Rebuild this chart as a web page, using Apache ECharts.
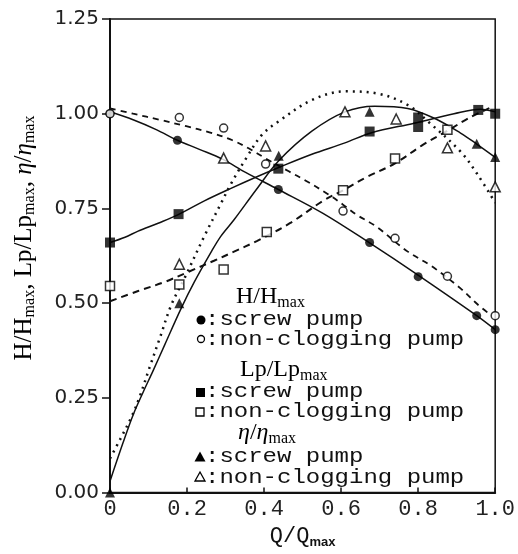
<!DOCTYPE html>
<html lang="en">
<head>
  <meta charset="UTF-8">
  <title>H, Lp, eta vs Q</title>
  <script src="https://cdn.jsdelivr.net/npm/echarts@6/dist/echarts.min.js"></script>
  <style>
    body { margin: 0; background: #fff; }
    #chart { width: 518px; height: 554px; }
  </style>
</head>
<body>
  <div id="chart"></div>
  <script>
    // measured points (markers)
    const hScrewQ = [0, 0.175, 0.437, 0.674, 0.80, 0.952, 1.0];
    const hScrew = [1.00, 0.93, 0.80, 0.66, 0.57, 0.467, 0.43];
    const hClogQ = [0, 0.18, 0.295, 0.404, 0.605, 0.74, 0.876, 1.0];
    const hClog = [1.00, 0.99, 0.962, 0.867, 0.743, 0.671, 0.571, 0.467];
    const lpScrewQ = [0, 0.178, 0.437, 0.674, 0.80, 0.80, 0.956, 1.0];
    const lpScrew = [0.66, 0.735, 0.855, 0.953, 0.99, 0.965, 1.01, 1.0];
    const lpClogQ = [0, 0.18, 0.295, 0.407, 0.605, 0.74, 0.876];
    const lpClog = [0.545, 0.549, 0.589, 0.688, 0.798, 0.882, 0.958];
    const etaScrewQ = [0, 0.18, 0.438, 0.674, 0.952, 1.0];
    const etaScrew = [0.0, 0.50, 0.889, 1.005, 0.921, 0.886];
    const etaClogQ = [0.18, 0.295, 0.404, 0.61, 0.743, 0.876, 1.0];
    const etaClog = [0.603, 0.883, 0.915, 1.005, 0.986, 0.91, 0.807];

    // fitted curves
    const hScrewFitQ = [0, 0.06, 0.12, 0.175, 0.232, 0.292, 0.352, 0.437, 0.553, 0.674, 0.794, 0.952, 1.0];
    const hScrewFit = [1.005, 0.984, 0.958, 0.93, 0.906, 0.88, 0.845, 0.80, 0.737, 0.659, 0.578, 0.467, 0.43];
    const hClogFitQ = [0, 0.06, 0.129, 0.198, 0.258, 0.318, 0.361, 0.404, 0.464, 0.507, 0.567, 0.605, 0.639, 0.69, 0.773, 0.833, 0.91, 0.954, 0.988];
    const hClogFit = [1.014, 1.0, 0.984, 0.967, 0.951, 0.93, 0.908, 0.882, 0.848, 0.824, 0.787, 0.76, 0.734, 0.703, 0.636, 0.599, 0.539, 0.497, 0.469];
    const lpScrewFitQ = [0, 0.039, 0.073, 0.125, 0.176, 0.245, 0.314, 0.38, 0.438, 0.524, 0.61, 0.679, 0.79, 0.893, 0.962, 1.0];
    const lpScrewFit = [0.66, 0.674, 0.69, 0.711, 0.733, 0.77, 0.803, 0.833, 0.858, 0.893, 0.923, 0.95, 0.975, 1.0, 1.012, 1.005];
    const lpClogFitQ = [0, 0.073, 0.142, 0.202, 0.27, 0.322, 0.381, 0.467, 0.553, 0.605, 0.665, 0.74, 0.811, 0.876, 0.931, 0.991];
    const lpClogFit = [0.505, 0.532, 0.556, 0.582, 0.612, 0.636, 0.664, 0.711, 0.77, 0.798, 0.832, 0.869, 0.917, 0.955, 0.988, 1.018];
    const etaScrewFitQ = [0, 0.034, 0.06, 0.086, 0.112, 0.142, 0.185, 0.219, 0.262, 0.288, 0.322, 0.38, 0.438, 0.524, 0.61, 0.687, 0.773, 0.842, 0.91, 0.952, 1.0];
    const etaScrewFit = [0.03, 0.132, 0.205, 0.265, 0.322, 0.39, 0.487, 0.556, 0.634, 0.677, 0.72, 0.80, 0.876, 0.954, 1.005, 1.02, 1.014, 0.988, 0.949, 0.92, 0.885];
    const etaClogFitQ = [0, 0.026, 0.056, 0.077, 0.103, 0.13, 0.159, 0.193, 0.245, 0.288, 0.314, 0.355, 0.395, 0.438, 0.524, 0.61, 0.696, 0.773, 0.825, 0.91, 0.954, 1.0];
    const etaClogFit = [0.09, 0.14, 0.20, 0.253, 0.331, 0.41, 0.495, 0.565, 0.677, 0.763, 0.815, 0.885, 0.945, 0.98, 1.036, 1.059, 1.053, 1.023, 0.98, 0.90, 0.84, 0.765];

    const xTicks = [0, 0.2, 0.4, 0.6, 0.8, 1.0];
    const yTicks = [0, 0.25, 0.5, 0.75, 1.0, 1.25];

    const pairs = (xs, ys) => xs.map((x, i) => [x, ys[i]]);

    const chart = echarts.init(document.getElementById('chart'));

    function fitLine(xs, ys, type, width) {
      return {
        type: 'line', data: pairs(xs, ys), smooth: 0.35, showSymbol: false,
        lineStyle: { color: '#111', width: width, type: type }, z: 2, silent: true
      };
    }
    function marks(xs, ys, symbol, size, filled) {
      return {
        type: 'scatter', data: pairs(xs, ys), symbol: symbol, symbolSize: size, z: 5,
        itemStyle: filled
          ? { color: '#000' }
          : { color: '#fff', borderColor: '#000', borderWidth: 1.5 }
      };
    }

    const serif = '"Liberation Serif", "DejaVu Serif", serif';
    const mono = '"Liberation Mono", "DejaVu Sans Mono", monospace';
    function subRich(big, small, drop) {
      return {
        n: { fontFamily: serif, fontSize: big, color: '#111' },
        i: { fontFamily: serif, fontSize: big, fontStyle: 'italic', color: '#111' },
        s: { fontFamily: serif, fontSize: small, color: '#111', padding: [drop, 0, 0, 0] }
      };
    }

    function legendRow(y, shape, text) {
      return [shape, {
        type: 'text', x: 205, y: y, scaleX: 1.2,
        style: { text: text, font: '20px ' + mono, fill: '#111', verticalAlign: 'middle', align: 'left' }
      }];
    }
    function header(x, y, text) {
      return {
        type: 'text', x: x, y: y,
        style: { text: text, rich: subRich(24, 16, 12), verticalAlign: 'middle', align: 'left' }
      };
    }
    const tri = (cx, cy, r) => [[cx, cy - r], [cx + r, cy + r * 0.8], [cx - r, cy + r * 0.8]];
    const blk = { fill: '#000' };
    const opn = { fill: '#fff', stroke: '#000', lineWidth: 1.3 };

    const graphics = [
      {
        type: 'text', x: 24, y: 238, rotation: Math.PI / 2,
        style: {
          text: '{n|H/H}{s|max}{n|, Lp/Lp}{s|max}{n|, }{i|η}{n|/}{i|η}{s|max}',
          rich: subRich(25, 16, 12), align: 'center', verticalAlign: 'middle'
        }
      },
      header(236, 297, '{n|H/H}{s|max}'),
      ...legendRow(320, { type: 'circle', shape: { cx: 201, cy: 320, r: 4.5 }, style: blk }, ':screw pump'),
      ...legendRow(340, { type: 'circle', shape: { cx: 201, cy: 339, r: 3.5 }, style: opn }, ':non-clogging pump'),
      header(240, 370, '{n|Lp/Lp}{s|max}'),
      ...legendRow(392, { type: 'rect', shape: { x: 196, y: 388, width: 9, height: 9 }, style: blk }, ':screw pump'),
      ...legendRow(412, { type: 'rect', shape: { x: 196, y: 408, width: 8, height: 8 }, style: opn }, ':non-clogging pump'),
      header(238, 433, '{i|η}{n|/}{i|η}{s|max}'),
      ...legendRow(457, { type: 'polygon', shape: { points: tri(200, 457, 5.5) }, style: blk }, ':screw pump'),
      ...legendRow(478, { type: 'polygon', shape: { points: tri(200, 477, 5) }, style: opn }, ':non-clogging pump')
    ];

    const option = {
      backgroundColor: '#fff',
      animation: false,
      grid: { left: 110, right: 20, top: 19, bottom: 53, show: true, borderColor: '#111', borderWidth: 1.5 },
      xAxis: {
        type: 'value', min: 0, max: 1, interval: 0.2,
        name: '{q|Q/Q}{m|max}', nameLocation: 'middle', nameGap: 27,
        nameTextStyle: {
          rich: {
            q: { fontFamily: mono, fontSize: 22, color: '#111' },
            m: { fontFamily: '"Liberation Sans", sans-serif', fontWeight: 'bold', fontSize: 13, color: '#111', padding: [12, 0, 0, 0] }
          }
        },
        axisLine: { lineStyle: { color: '#111', width: 2 } },
        axisTick: { inside: true, length: 5, lineStyle: { color: '#111', width: 1.5 } },
        splitLine: { show: false },
        axisLabel: {
          margin: 6, color: '#222', fontFamily: mono, fontSize: 22,
          formatter: v => (v === 0 ? '0' : v.toFixed(1))
        }
      },
      yAxis: {
        type: 'value', min: 0, max: 1.25, interval: 0.25,
        axisLine: { lineStyle: { color: '#111', width: 2 } },
        axisTick: { length: 8, lineStyle: { color: '#111', width: 1.5 } },
        splitLine: { show: false },
        axisLabel: {
          margin: 11, color: '#222', fontFamily: '"DejaVu Sans", sans-serif', fontSize: 20,
          formatter: v => v.toFixed(2)
        }
      },
      graphic: graphics,
      series: [
        fitLine(hScrewFitQ, hScrewFit, 'solid', 1.5),
        fitLine(hClogFitQ, hClogFit, [6, 5], 1.8),
        fitLine(lpScrewFitQ, lpScrewFit, 'solid', 1.5),
        fitLine(lpClogFitQ, lpClogFit, [7, 5], 2),
        fitLine(etaScrewFitQ, etaScrewFit, 'solid', 1.5),
        fitLine(etaClogFitQ, etaClogFit, [2, 5], 2.5),
        marks(hScrewQ, hScrew, 'circle', 9, true),
        marks(hClogQ, hClog, 'circle', 8, false),
        marks(lpScrewQ, lpScrew, 'rect', 10, true),
        marks(lpClogQ, lpClog, 'rect', 9, false),
        marks(etaScrewQ, etaScrew, 'triangle', 10, true),
        marks(etaClogQ, etaClog, 'triangle', 10, false)
      ]
    };

    chart.setOption(option);
  </script>
</body>
</html>
